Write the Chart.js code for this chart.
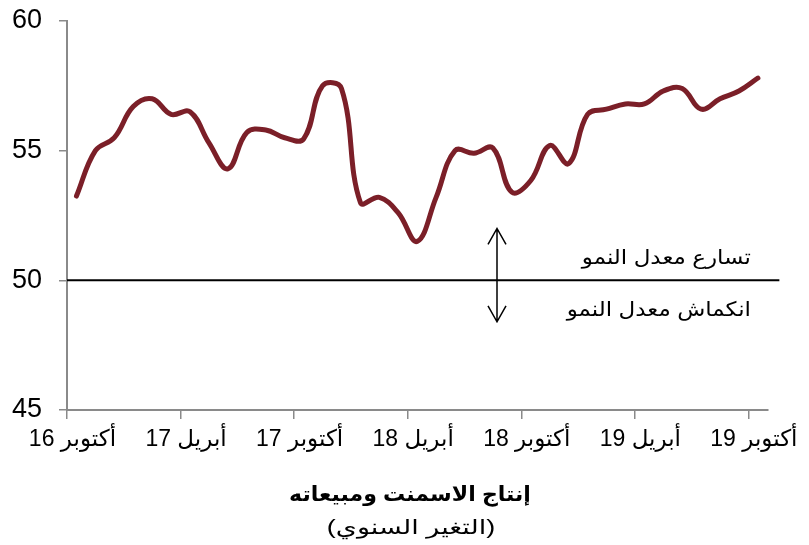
<!DOCTYPE html>
<html lang="ar">
<head>
<meta charset="UTF-8">
<title>إنتاج الاسمنت ومبيعاته</title>
<style>
  body {
    margin: 0;
    padding: 0;
    background: #fff;
  }
  .wrap {
    width: 809px;
    height: 545px;
    position: relative;
  }
</style>
<script src="https://cdn.jsdelivr.net/npm/chart.js"></script>
</head>
<body>

<div class="wrap">
  <canvas id="chart"></canvas>
</div>

<script>
// months from Oct 2016 to Oct 2019
const months = [
  'أكتوبر 16', 'نوفمبر 16', 'ديسمبر 16',
  'يناير 17', 'فبراير 17', 'مارس 17', 'أبريل 17', 'مايو 17', 'يونيو 17',
  'يوليو 17', 'أغسطس 17', 'سبتمبر 17', 'أكتوبر 17', 'نوفمبر 17', 'ديسمبر 17',
  'يناير 18', 'فبراير 18', 'مارس 18', 'أبريل 18', 'مايو 18', 'يونيو 18',
  'يوليو 18', 'أغسطس 18', 'سبتمبر 18', 'أكتوبر 18', 'نوفمبر 18', 'ديسمبر 18',
  'يناير 19', 'فبراير 19', 'مارس 19', 'أبريل 19', 'مايو 19', 'يونيو 19',
  'يوليو 19', 'أغسطس 19', 'سبتمبر 19', 'أكتوبر 19'
];

const cementIndex = [
  53.25, 55.0, 55.5, 56.7, 57.0, 56.4, 56.5, 55.3, 54.3,
  55.7, 55.8, 55.5, 55.45, 57.5, 57.4, 53.0, 53.2, 52.6,
  51.5, 53.2, 55.0, 54.9, 55.1, 53.4, 53.85, 55.2, 54.5,
  56.4, 56.6, 56.8, 56.8, 57.3, 57.4, 56.6, 57.0, 57.3, 57.8
];

const yTicks = [45, 50, 55, 60];
const threshold = 50;
const upLabel = 'تسارع معدل النمو';
const downLabel = 'انكماش معدل النمو';
const axisTitle = 'إنتاج الاسمنت ومبيعاته';
const axisSubtitle = '(التغير السنوي)';

const FONT = "Arial, 'Liberation Sans', 'DejaVu Sans', sans-serif";
const AXIS_GREY = '#8a8a8a';

// text a bit wider than the font gives, like the original export
function wideText(ctx, text, x, y, align, sx) {
  ctx.save();
  ctx.translate(x, y);
  ctx.scale(sx, 1);
  ctx.textAlign = align;
  ctx.fillText(text, 0, 0);
  ctx.restore();
}

// 50 line, growth arrow, notes and the axis title
const extras = {
  id: 'extras',
  afterDatasetsDraw(chart) {
    const ctx = chart.ctx;
    const x = chart.scales.x;
    const y = chart.scales.y;
    const y50 = y.getPixelForValue(threshold);

    ctx.save();
    ctx.strokeStyle = '#000';
    ctx.lineWidth = 2;
    ctx.beginPath();
    ctx.moveTo(x.left, y50);
    ctx.lineTo(x.right + 12, y50);
    ctx.stroke();

    // double arrow
    const ax = 497;
    const top = y.getPixelForValue(52.0);
    const bot = y.getPixelForValue(48.4);
    ctx.lineWidth = 1.5;
    ctx.beginPath();
    ctx.moveTo(ax, top);
    ctx.lineTo(ax, bot);
    ctx.moveTo(ax - 9, top + 16);
    ctx.lineTo(ax, top);
    ctx.lineTo(ax + 9, top + 16);
    ctx.moveTo(ax - 9, bot - 16);
    ctx.lineTo(ax, bot);
    ctx.lineTo(ax + 9, bot - 16);
    ctx.stroke();

    ctx.fillStyle = '#000';
    ctx.textBaseline = 'middle';
    ctx.font = '20px ' + FONT;
    wideText(ctx, upLabel, 751, y50 - 22, 'right', 1.15);
    wideText(ctx, downLabel, 751, y50 + 30, 'right', 1.15);

    ctx.font = 'bold 21px ' + FONT;
    wideText(ctx, axisTitle, 410, 495, 'center', 1.05);
    ctx.font = '20px ' + FONT;
    wideText(ctx, axisSubtitle, 411, 528, 'center', 1.35);
    ctx.restore();
  }
};

const config = {
  type: 'line',
  data: {
    labels: months,
    datasets: [{
      data: cementIndex,
      borderColor: '#7b1f28',
      borderWidth: 5,
      borderCapStyle: 'round',
      borderJoinStyle: 'round',
      pointRadius: 0,
      tension: 0.4,
      fill: false
    }]
  },
  options: {
    responsive: true,
    maintainAspectRatio: false,
    animation: false,
    layout: {
      padding: { top: 21, right: 36, left: 0, bottom: 0 }
    },
    plugins: {
      legend: { display: false },
      tooltip: { enabled: false }
    },
    scales: {
      x: {
        type: 'category',
        offset: true,
        afterFit: (s) => { s.height = 135; },
        grid: {
          offset: true,
          drawOnChartArea: false,
          tickLength: 9,
          lineWidth: 1.5,
          color: (c) => (c.index % 6 === 0 ? AXIS_GREY : 'rgba(0,0,0,0)')
        },
        border: { color: AXIS_GREY, width: 2 },
        ticks: {
          autoSkip: false,
          maxRotation: 0,
          minRotation: 0,
          padding: 7,
          labelOffset: -4,
          color: '#000',
          font: { family: FONT, size: 23 },
          callback: (v, i) => (i % 6 === 0 ? months[i] : '')
        }
      },
      y: {
        min: yTicks[0],
        max: yTicks[yTicks.length - 1],
        afterFit: (s) => {
          s.width = 67;
          s.paddingTop = 0;
          s.paddingBottom = 0;
        },
        afterBuildTicks: (s) => { s.ticks = yTicks.map(v => ({ value: v })); },
        grid: {
          drawOnChartArea: false,
          tickLength: 8,
          lineWidth: 1.5,
          color: AXIS_GREY
        },
        border: { color: AXIS_GREY, width: 2 },
        ticks: {
          padding: 17,
          color: '#000',
          font: { family: FONT, size: 27 }
        }
      }
    }
  },
  plugins: [extras]
};

window.onload = function() {
  const ctx = document.getElementById('chart').getContext('2d');
  new Chart(ctx, config);
};
</script>
</body>
</html>
